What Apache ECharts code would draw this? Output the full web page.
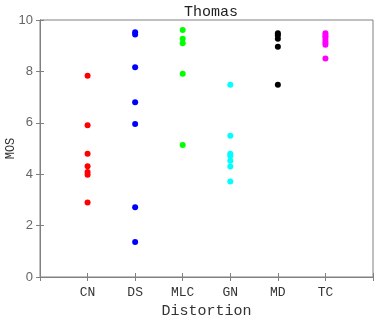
<!DOCTYPE html>
<html>
<head>
<meta charset="utf-8">
<script src="https://cdn.jsdelivr.net/npm/echarts@6/dist/echarts.min.js"></script>
<style>
  html, body { margin: 0; padding: 0; background: #fff; }
  #main { width: 374px; height: 315px; }
</style>
</head>
<body>
<div id="main"></div>
<script>
// distortion categories and MOS values
var categories = ['CN', 'DS', 'MLC', 'GN', 'MD', 'TC'];
var colors = ['#ff0000', '#0000ff', '#00ff00', '#00ffff', '#000000', '#ff00ff'];
var cnVals = [7.83, 5.9, 4.8, 4.31, 4.09, 3.98, 2.9];
var dsVals = [9.52, 9.44, 8.16, 6.8, 5.95, 2.71, 1.36];
var mlcVals = [9.61, 9.27, 9.1, 7.91, 5.14];
var gnVals = [7.48, 5.5, 4.8, 4.71, 4.52, 4.3, 3.72];
var mdVals = [9.48, 9.41, 9.27, 8.96, 7.48];
var tcVals = [9.48, 9.4, 9.33, 9.22, 9.12, 9.04, 8.5];
var yTicks = [0, 2, 4, 6, 8, 10];

var allVals = [cnVals, dsVals, mlcVals, gnVals, mdVals, tcVals];
var mono = '"Liberation Mono", "DejaVu Sans Mono", monospace';
var axisGray = '#808080';

var series = allVals.map(function (vals, i) {
  return {
    type: 'scatter',
    name: categories[i],
    symbolSize: 6,
    itemStyle: { color: colors[i], opacity: 1 },
    data: vals.map(function (v) { return [i + 1, v]; })
  };
});

var myChart = echarts.init(document.getElementById('main'));
myChart.setOption({
  animation: false,
  title: {
    text: 'Thomas',
    left: 206,
    textAlign: 'center',
    top: 0,
    textStyle: { fontFamily: mono, fontWeight: 'normal', fontSize: 15, color: '#222' }
  },
  grid: {
    left: 40, right: 1, top: 20, bottom: 38,
    outerBoundsMode: 'none', containLabel: false,
    show: true, borderColor: axisGray, borderWidth: 1
  },
  xAxis: [{
    type: 'value', min: 0, max: 7, interval: 1,
    name: 'Distortion', nameLocation: 'middle', nameGap: 27, nameMoveOverlap: false,
    nameTextStyle: { fontFamily: mono, fontSize: 15, color: '#333' },
    axisLine: { show: true, lineStyle: { color: axisGray } },
    axisTick: { inside: true, length: 4, lineStyle: { color: axisGray } },
    splitLine: { show: false },
    axisLabel: {
      fontFamily: mono, fontSize: 13, color: '#333', margin: 9,
      formatter: function (v) { return categories[v - 1] || ''; }
    }
  }, {
    type: 'value', min: 0, max: 7, interval: 1, position: 'top',
    axisLine: { show: true, lineStyle: { color: axisGray } },
    axisTick: { inside: true, length: 4, lineStyle: { color: axisGray } },
    axisLabel: { show: false }, splitLine: { show: false }
  }],
  yAxis: [{
    type: 'value', min: 0, max: 10, interval: 2,
    name: 'MOS', nameLocation: 'middle', nameGap: 23, nameMoveOverlap: false,
    nameTextStyle: { fontFamily: mono, fontSize: 12, color: '#333' },
    axisLine: { show: true, lineStyle: { color: axisGray } },
    axisTick: { show: true, inside: true, length: 4, lineStyle: { color: axisGray } },
    splitLine: { show: false },
    axisLabel: {
      fontFamily: '"Liberation Sans", Arial, sans-serif', fontSize: 13, color: '#666', margin: 7,
      customValues: yTicks
    }
  }, {
    type: 'value', min: 0, max: 10, interval: 2, position: 'right',
    axisLine: { show: true, lineStyle: { color: axisGray } },
    axisTick: { show: true, inside: true, length: 4, lineStyle: { color: axisGray } },
    axisLabel: { show: false }, splitLine: { show: false }
  }],
  series: series
});
</script>
</body>
</html>
